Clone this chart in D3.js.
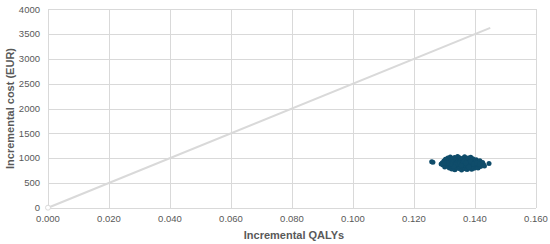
<!DOCTYPE html>
<html>
<head>
<meta charset="utf-8">
<script src="https://d3js.org/d3.v7.min.js"></script>
<style>
  body { margin: 0; background: #fff; }
  text { font-family: "Liberation Sans", Arial, sans-serif; fill: #595959; }
  .grid line { stroke: #d9d9d9; stroke-width: 1; shape-rendering: crispEdges; }
  .grid path { stroke-width: 0; }
</style>
</head>
<body>
<div id="chart"></div>
<script>
// ticks
const xTicks = [0, 0.02, 0.04, 0.06, 0.08, 0.10, 0.12, 0.14, 0.16];
const yTicks = [0, 500, 1000, 1500, 2000, 2500, 3000, 3500, 4000];

// willingness-to-pay line (25,000 EUR/QALY)
const wtpQaly = [0, 0.145];
const wtpCost = [0, 3625];

// simulated ICER points
const qalys = [
  0.1258, 0.1262, 0.1446, 0.1289, 0.1293, 0.1295, 0.1298, 0.1301, 0.1303, 0.1305,
  0.1307, 0.1309, 0.1311, 0.1312, 0.1314, 0.1316, 0.1318, 0.1319, 0.1321, 0.1322,
  0.1324, 0.1325, 0.1327, 0.1328, 0.1330, 0.1331, 0.1333, 0.1334, 0.1336, 0.1337,
  0.1339, 0.1340, 0.1341, 0.1343, 0.1344, 0.1345, 0.1347, 0.1348, 0.1349, 0.1351,
  0.1352, 0.1353, 0.1355, 0.1356, 0.1357, 0.1358, 0.1360, 0.1361, 0.1362, 0.1364,
  0.1365, 0.1366, 0.1368, 0.1369, 0.1370, 0.1372, 0.1373, 0.1374, 0.1376, 0.1377,
  0.1378, 0.1380, 0.1381, 0.1382, 0.1384, 0.1385, 0.1386, 0.1388, 0.1389, 0.1390,
  0.1392, 0.1393, 0.1394, 0.1396, 0.1397, 0.1398, 0.1400, 0.1401, 0.1403, 0.1404,
  0.1406, 0.1407, 0.1409, 0.1410, 0.1412, 0.1414, 0.1416, 0.1418, 0.1420, 0.1422,
  0.1425, 0.1428, 0.1431, 0.1340, 0.1350, 0.1360, 0.1345, 0.1355, 0.1365, 0.1375,
  0.1335, 0.1330, 0.1385, 0.1395, 0.1370, 0.1380, 0.1320, 0.1310, 0.1300, 0.1405,
  0.1415
];
const costs = [
  925, 915, 890, 880, 905, 860, 940, 820, 975, 890,
  930, 845, 1000, 870, 960, 800, 915, 1020, 850, 940,
  780, 895, 990, 830, 955, 875, 1010, 765, 920, 845,
  980, 805, 900, 1030, 860, 945, 790, 885, 1005, 825,
  935, 870, 970, 760, 905, 840, 995, 880, 815, 950,
  865, 1025, 785, 925, 850, 980, 895, 770, 940, 830,
  1000, 875, 910, 800, 960, 855, 1015, 890, 775, 935,
  835, 985, 870, 915, 795, 950, 860, 900, 820, 965,
  880, 845, 930, 800, 895, 860, 945, 830, 885, 855,
  910, 870, 840, 900, 910, 920, 880, 850, 940, 860,
  870, 830, 930, 880, 900, 820, 880, 900, 900, 900,
  880
];

const width = 550, height = 244;
const plotLeft = 48, plotRight = 536, plotTop = 9.3, plotBottom = 207.7;

const svg = d3.select("#chart").append("svg")
  .attr("width", width)
  .attr("height", height);

const x = d3.scaleLinear().domain([0, 0.16]).range([plotLeft, plotRight]);
const y = d3.scaleLinear().domain([0, 4000]).range([plotBottom, plotTop]);

// gridlines
svg.append("g")
  .attr("class", "grid")
  .attr("transform", `translate(0,${plotBottom})`)
  .call(d3.axisBottom(x).tickValues(xTicks).tickSize(-(plotBottom - plotTop)).tickFormat(""));

svg.append("g")
  .attr("class", "grid")
  .attr("transform", `translate(${plotLeft},0)`)
  .call(d3.axisLeft(y).tickValues(yTicks).tickSize(-(plotRight - plotLeft)).tickFormat(""));

// tick labels
svg.append("g").selectAll("text")
  .data(xTicks)
  .enter().append("text")
  .attr("x", d => x(d))
  .attr("y", plotBottom + 14.5)
  .attr("text-anchor", "middle")
  .style("font-size", "9.5px")
  .text(d => d3.format(".3f")(d));

svg.append("g").selectAll("text")
  .data(yTicks)
  .enter().append("text")
  .attr("x", plotLeft - 8)
  .attr("y", d => y(d) + 3.3)
  .attr("text-anchor", "end")
  .style("font-size", "9.5px")
  .text(d => d);

// WTP line
const line = d3.line().x(d => x(d[0])).y(d => y(d[1]));
svg.append("path")
  .datum(d3.zip(wtpQaly, wtpCost))
  .attr("d", line)
  .attr("fill", "none")
  .attr("stroke", "#d9d9d9")
  .attr("stroke-width", 2);

svg.append("circle")
  .attr("cx", x(wtpQaly[0]))
  .attr("cy", y(wtpCost[0]))
  .attr("r", 2.5)
  .attr("fill", "#fff")
  .attr("stroke", "#d9d9d9");

// scatter
svg.append("g").selectAll("circle")
  .data(d3.zip(qalys, costs))
  .enter().append("circle")
  .attr("cx", d => x(d[0]))
  .attr("cy", d => y(d[1]))
  .attr("r", 2.5)
  .attr("fill", "#0f4c6a");

// axis titles
svg.append("text")
  .attr("x", (plotLeft + plotRight) / 2 + 2)
  .attr("y", 239)
  .attr("text-anchor", "middle")
  .style("font-size", "11px")
  .style("font-weight", "bold")
  .text("Incremental QALYs");

svg.append("text")
  .attr("transform", `translate(14,${(plotTop + plotBottom) / 2}) rotate(-90)`)
  .attr("text-anchor", "middle")
  .style("font-size", "11px")
  .style("font-weight", "bold")
  .text("Incremental cost (EUR)");
</script>
</body>
</html>
